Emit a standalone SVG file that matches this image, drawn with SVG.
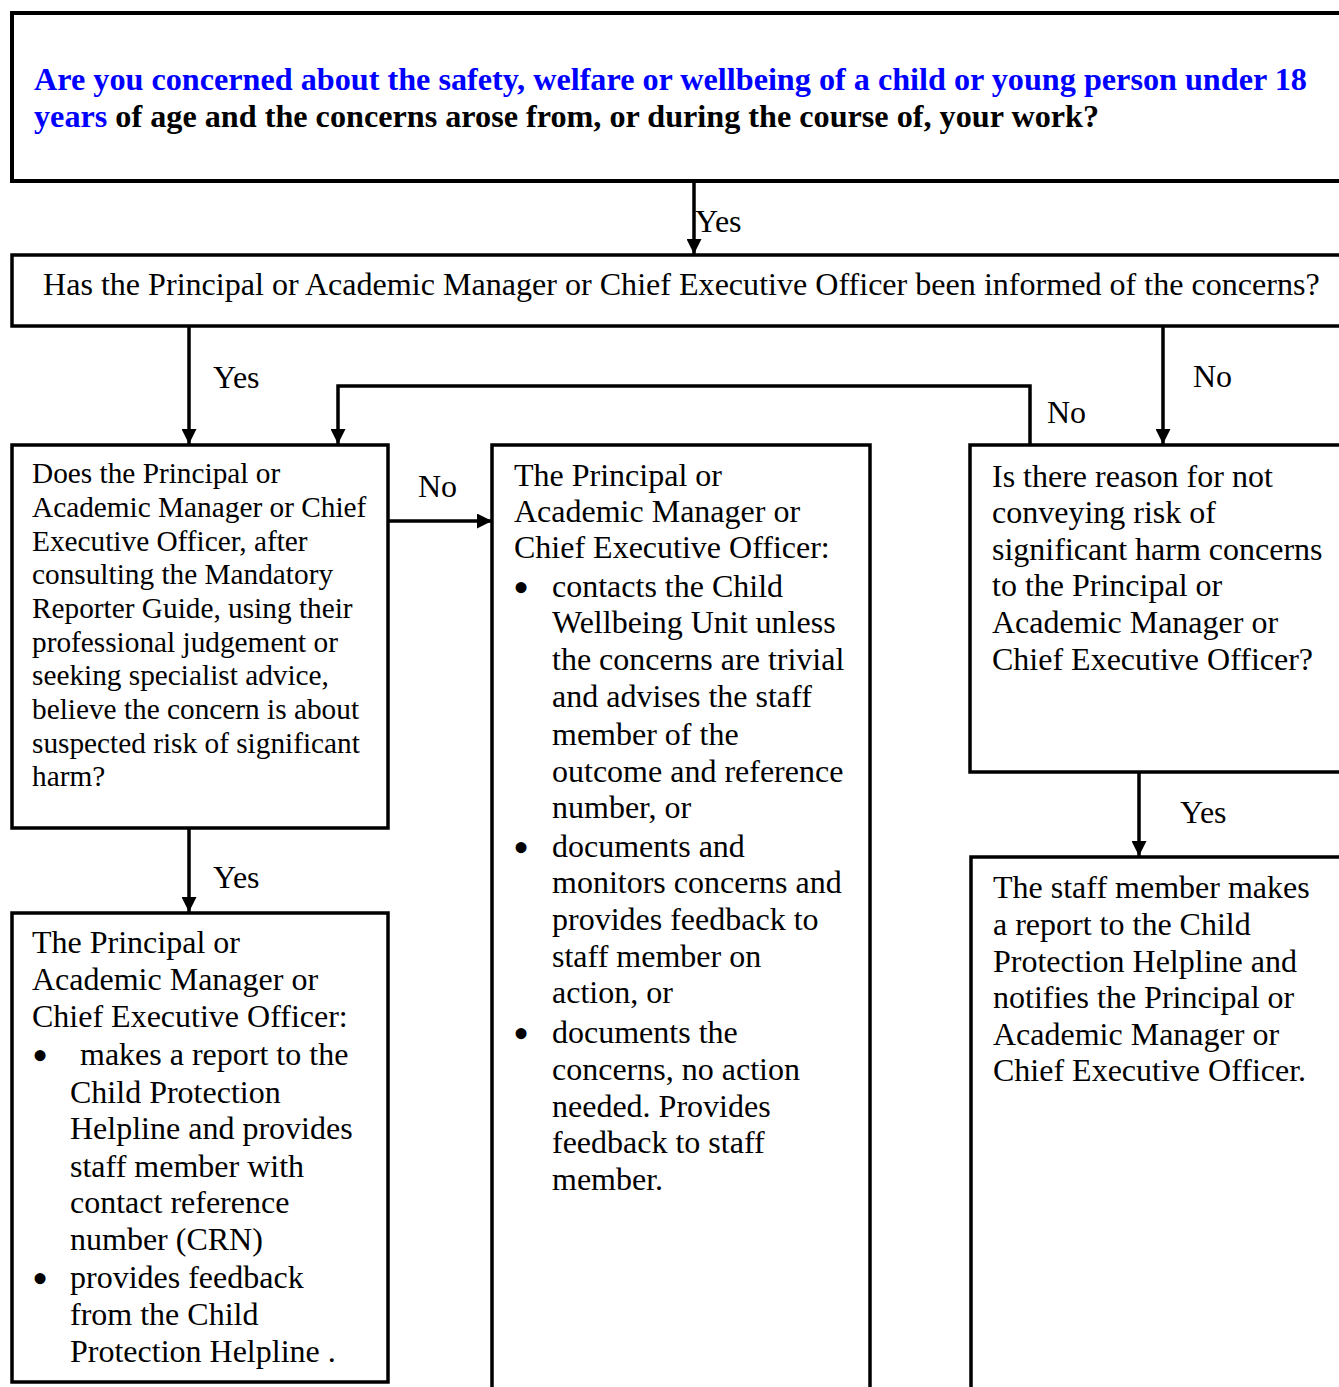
<svg xmlns="http://www.w3.org/2000/svg" width="1339" height="1387" viewBox="0 0 1339 1387">
<style>
.box{fill:#fff;stroke:#000;stroke-width:3.5}
.t{font-family:"Liberation Serif","Times New Roman",serif;font-size:32px;fill:#000}
.s{font-size:29.3px}
.b{font-weight:bold;font-size:32.2px}
.blue{fill:#0000FF}
.bul{font-family:"Liberation Serif","Times New Roman",serif;font-size:46px;fill:#000}
.c{fill:none;stroke:#000;stroke-width:3.5}
</style>
<defs>
<marker id="ah" markerWidth="15" markerHeight="15" refX="15" refY="7.5" orient="auto" markerUnits="userSpaceOnUse">
<path d="M0,0 L15,7.5 L0,15 Z" fill="#000"/>
</marker>
</defs>
<rect width="1339" height="1387" fill="#fff"/>
<g id="n-top">
<rect class="box" x="12" y="13" width="1400" height="168" style="stroke-width:4"/>
<text class="t b" x="34" y="90"><tspan class="blue">Are you concerned about the safety, welfare or wellbeing of a child or young person under 18</tspan></text>
<text class="t b" x="34" y="127"><tspan class="blue">years</tspan> of age and the concerns arose from, or during the course of, your work?</text>
</g>
<g id="n-informed">
<rect class="box" x="12" y="255" width="1400" height="71"/>
<text class="t" x="43" y="295" style="font-size:32.1px">Has the Principal or Academic Manager or Chief Executive Officer been informed of the concerns?</text>
</g>
<g id="n-believe">
<rect class="box" x="12" y="445" width="376" height="383"/>
<text class="t s" x="32" y="483">Does the Principal or</text>
<text class="t s" x="32" y="517">Academic Manager or Chief</text>
<text class="t s" x="32" y="551">Executive Officer, after</text>
<text class="t s" x="32" y="584">consulting the Mandatory</text>
<text class="t s" x="32" y="618">Reporter Guide, using their</text>
<text class="t s" x="32" y="652">professional judgement or</text>
<text class="t s" x="32" y="685">seeking specialist advice,</text>
<text class="t s" x="32" y="719">believe the concern is about</text>
<text class="t s" x="32" y="753">suspected risk of significant</text>
<text class="t s" x="32" y="786">harm?</text>
</g>
<g id="n-report">
<rect class="box" x="12" y="913" width="376" height="469"/>
<text class="t" x="32" y="953">The Principal or</text>
<text class="t" x="32" y="990">Academic Manager or</text>
<text class="t" x="32" y="1027">Chief Executive Officer:</text>
<text class="bul" x="32" y="1071">•</text>
<text class="t" x="80" y="1065">makes a report to the</text>
<text class="t" x="70" y="1103">Child Protection</text>
<text class="t" x="70" y="1139">Helpline and provides</text>
<text class="t" x="70" y="1177">staff member with</text>
<text class="t" x="70" y="1213">contact reference</text>
<text class="t" x="70" y="1250">number (CRN)</text>
<text class="bul" x="32" y="1294">•</text>
<text class="t" x="70" y="1288">provides feedback</text>
<text class="t" x="70" y="1325">from the Child</text>
<text class="t" x="70" y="1362">Protection Helpline .</text>
</g>
<g id="n-actions">
<rect class="box" x="492" y="445" width="378" height="1000"/>
<text class="t" x="514" y="486">The Principal or</text>
<text class="t" x="514" y="522">Academic Manager or</text>
<text class="t" x="514" y="558">Chief Executive Officer:</text>
<text class="bul" x="513" y="603">•</text>
<text class="t" x="552" y="597">contacts the Child</text>
<text class="t" x="552" y="633">Wellbeing Unit unless</text>
<text class="t" x="552" y="670">the concerns are trivial</text>
<text class="t" x="552" y="707">and advises the staff</text>
<text class="t" x="552" y="745">member of the</text>
<text class="t" x="552" y="782">outcome and reference</text>
<text class="t" x="552" y="818">number, or</text>
<text class="bul" x="513" y="863">•</text>
<text class="t" x="552" y="857">documents and</text>
<text class="t" x="552" y="893">monitors concerns and</text>
<text class="t" x="552" y="930">provides feedback to</text>
<text class="t" x="552" y="967">staff member on</text>
<text class="t" x="552" y="1003">action, or</text>
<text class="bul" x="513" y="1049">•</text>
<text class="t" x="552" y="1043">documents the</text>
<text class="t" x="552" y="1080">concerns, no action</text>
<text class="t" x="552" y="1117">needed. Provides</text>
<text class="t" x="552" y="1153">feedback to staff</text>
<text class="t" x="552" y="1190">member.</text>
</g>
<g id="n-reason">
<rect class="box" x="970" y="445" width="450" height="327"/>
<text class="t" x="992" y="487">Is there reason for not</text>
<text class="t" x="992" y="523">conveying risk of</text>
<text class="t" x="992" y="560">significant harm concerns</text>
<text class="t" x="992" y="596">to the Principal or</text>
<text class="t" x="992" y="633">Academic Manager or</text>
<text class="t" x="992" y="670">Chief Executive Officer?</text>
</g>
<g id="n-staff">
<rect class="box" x="971" y="857" width="450" height="600"/>
<text class="t" x="993" y="898">The staff member makes</text>
<text class="t" x="993" y="935">a report to the Child</text>
<text class="t" x="993" y="972">Protection Helpline and</text>
<text class="t" x="993" y="1008">notifies the Principal or</text>
<text class="t" x="993" y="1045">Academic Manager or</text>
<text class="t" x="993" y="1081">Chief Executive Officer.</text>
</g>
<g id="connectors">
<line class="c" x1="694" y1="181" x2="694" y2="254" marker-end="url(#ah)"/>
<line class="c" x1="189" y1="326" x2="189" y2="444" marker-end="url(#ah)"/>
<line class="c" x1="1163" y1="326" x2="1163" y2="444" marker-end="url(#ah)"/>
<polyline class="c" points="1030,445 1030,386 338,386 338,444" marker-end="url(#ah)"/>
<line class="c" x1="388" y1="521" x2="492" y2="521" marker-end="url(#ah)"/>
<line class="c" x1="189" y1="828" x2="189" y2="912" marker-end="url(#ah)"/>
<line class="c" x1="1139" y1="772" x2="1139" y2="856" marker-end="url(#ah)"/>
<text class="t" x="695" y="232">Yes</text>
<text class="t" x="213" y="388">Yes</text>
<text class="t" x="1193" y="387">No</text>
<text class="t" x="1047" y="423">No</text>
<text class="t" x="418" y="497">No</text>
<text class="t" x="213" y="888">Yes</text>
<text class="t" x="1180" y="823">Yes</text>
</g>
</svg>
